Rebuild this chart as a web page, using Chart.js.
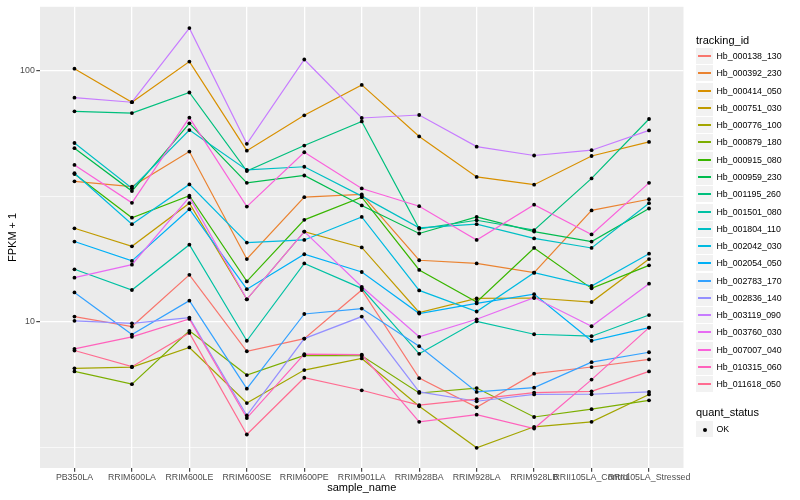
<!DOCTYPE html>
<html lang="en">
<head>
<meta charset="UTF-8">
<title>FPKM + 1 by sample</title>
<script src="https://cdn.jsdelivr.net/npm/chart.js"></script>
<style>
    body { margin: 0; background: #fff; }
    .wrap { position: relative; width: 800px; height: 500px; font-family: "Liberation Sans", Arial, sans-serif; }
    #chart { position: absolute; left: 0; top: 0; }
    .lg-title { position: absolute; left: 696px; font-size: 11px; line-height: 13.2px; color: #000; white-space: nowrap; }
    .lg-key { position: absolute; left: 696px; width: 17px; height: 17px; box-sizing: border-box; background: #f2f2f2; border-bottom: 1px solid #fff; }
    .lg-line { position: absolute; left: 2px; right: 2px; top: 7px; height: 2px; }
    .lg-dot { position: absolute; left: 6.5px; top: 6.5px; width: 4px; height: 4px; border-radius: 50%; background: #000; }
    .lg-text { position: absolute; left: 716.5px; font-size: 8.8px; line-height: 17px; color: #000; white-space: nowrap; }
</style>
</head>
<body>
<div class="wrap" id="wrap">
    <canvas id="chart" width="800" height="500"></canvas>
</div>
<script>
    const samples = ['PB350LA', 'RRIM600LA', 'RRIM600LE', 'RRIM600SE', 'RRIM600PE', 'RRIM901LA',
        'RRIM928BA', 'RRIM928LA', 'RRIM928LB', 'RRII105LA_Control', 'RRII105LA_Stressed'];

    const trackingIds = ['Hb_000138_130', 'Hb_000392_230', 'Hb_000414_050', 'Hb_000751_030', 'Hb_000776_100',
        'Hb_000879_180', 'Hb_000915_080', 'Hb_000959_230', 'Hb_001195_260', 'Hb_001501_080',
        'Hb_001804_110', 'Hb_002042_030', 'Hb_002054_050', 'Hb_002783_170', 'Hb_002836_140',
        'Hb_003119_090', 'Hb_003760_030', 'Hb_007007_040', 'Hb_010315_060', 'Hb_011618_050'];

    // FPKM + 1, one value per sample
    const hb_000138_130 = [10.5, 9.58, 15.4, 7.64, 8.58, 13.4, 5.97, 4.57, 6.22, 6.61, 7.09];
    const hb_000392_230 = [36.3, 34.6, 47.7, 17.8, 31.4, 32.2, 17.6, 17.1, 15.7, 27.8, 30.8];
    const hb_000414_050 = [102, 75, 108.9, 48.1, 66.5, 87.9, 54.8, 37.8, 35.2, 45.8, 52.1];
    const hb_000751_030 = [23.6, 20.0, 29.7, 12.3, 22.9, 19.8, 10.9, 12.4, 12.45, 12.0, 17.8];
    const hb_000776_100 = [6.53, 6.60, 7.91, 4.75, 6.43, 7.15, 4.61, 3.15, 3.82, 4.0, 5.14];
    const hb_000879_180 = [6.35, 5.65, 9.21, 6.14, 7.35, 7.33, 5.21, 5.45, 4.18, 4.49, 4.87];
    const hb_000915_080 = [38.8, 26.0, 31.8, 14.5, 25.5, 31.4, 16.1, 12.0, 19.7, 13.6, 16.8];
    const hb_000959_230 = [49.2, 33.2, 61.8, 35.8, 38.3, 29.1, 22.5, 26.2, 22.9, 20.9, 28.3];
    const hb_001195_260 = [69.0, 67.9, 82.0, 39.9, 50.4, 62.9, 23.5, 25.4, 23.2, 37.3, 64.3];
    const hb_001501_080 = [16.2, 13.4, 20.3, 8.41, 17.1, 13.6, 7.46, 10.05, 8.93, 8.77, 10.65];
    const hb_001804_110 = [51.6, 34.1, 58.1, 40.3, 41.5, 31.7, 23.7, 24.5, 21.5, 19.7, 29.7];
    const hb_002042_030 = [39.1, 24.5, 35.3, 20.7, 21.2, 26.2, 13.35, 11.0, 15.7, 13.9, 18.7];
    const hb_002054_050 = [20.9, 17.5, 28.1, 13.5, 18.6, 15.8, 10.8, 11.85, 12.9, 8.41, 9.49];
    const hb_002783_170 = [13.1, 8.90, 12.15, 5.42, 10.75, 11.3, 8.0, 5.26, 5.47, 6.91, 7.57];
    const hb_002836_140 = [10.1, 9.87, 10.4, 4.24, 8.58, 10.5, 5.26, 4.83, 5.14, 5.15, 5.26];
    const hb_003119_090 = [78.2, 75.0, 148, 51.2, 111, 64.9, 66.7, 49.9, 46.0, 48.3, 57.9];
    const hb_003760_030 = [15.0, 16.9, 31.4, 12.3, 22.9, 13.8, 8.72, 10.24, 12.5, 9.61, 14.2];
    const hb_007007_040 = [42.2, 29.8, 65.1, 28.8, 47.4, 34.0, 28.9, 21.2, 29.3, 22.3, 35.8];
    const hb_010315_060 = [7.81, 8.72, 10.28, 4.14, 7.44, 7.40, 4.0, 4.27, 3.76, 5.89, 9.49];
    const hb_011618_050 = [7.69, 6.63, 9.04, 3.56, 5.99, 5.34, 4.66, 4.92, 5.23, 5.29, 6.35];

    const seriesValues = [hb_000138_130, hb_000392_230, hb_000414_050, hb_000751_030, hb_000776_100,
        hb_000879_180, hb_000915_080, hb_000959_230, hb_001195_260, hb_001501_080,
        hb_001804_110, hb_002042_030, hb_002054_050, hb_002783_170, hb_002836_140,
        hb_003119_090, hb_003760_030, hb_007007_040, hb_010315_060, hb_011618_050];

    const yTicks = [3.1623, 10, 31.623, 100];
    const yLabelled = [10, 100];
    const quantStatus = ['OK'];

    // ggplot hue palette, 20 levels
    const palette = ['#F8766D', '#EA8331', '#D89000', '#C09B00', '#A3A500', '#7CAE00', '#39B600', '#00BB4E',
        '#00BF7D', '#00C1A3', '#00BFC4', '#00BAE0', '#00B0F6', '#35A2FF', '#9590FF', '#C77CFF',
        '#E76BF3', '#FA62DB', '#FF62BC', '#FF6C91'];

    Chart.defaults.font.family = '"Liberation Sans", Arial, sans-serif';
    Chart.defaults.animation = false;

    const isMajor = v => yLabelled.some(m => Math.abs(m - v) < 1e-6);

    const datasets = seriesValues.map((vals, i) => ({
        label: trackingIds[i],
        data: vals.map((v, j) => ({ x: j, y: v })),
        borderColor: palette[i],
        backgroundColor: palette[i],
        borderWidth: 1.2,
        pointRadius: 0,
        tension: 0,
        order: seriesValues.length - i
    }));

    // all points drawn on top of the lines, like geom_point after geom_line
    datasets.push({
        label: quantStatus[0],
        data: seriesValues.flatMap(vals => vals.map((v, j) => ({ x: j, y: v }))),
        showLine: false,
        pointRadius: 1.9,
        pointBackgroundColor: '#000',
        pointBorderWidth: 0,
        order: 0
    });

    const panelBg = {
        id: 'panelBg',
        beforeDraw(chart) {
            const a = chart.chartArea;
            chart.ctx.save();
            chart.ctx.fillStyle = '#ebebeb';
            chart.ctx.fillRect(a.left, a.top, a.right - a.left, a.bottom - a.top);
            chart.ctx.restore();
        }
    };

    new Chart('chart', {
        type: 'line',
        data: { datasets: datasets },
        options: {
            responsive: false,
            layout: { padding: { left: 0, right: 116.5, top: 5, bottom: 0 } },
            plugins: { legend: { display: false }, tooltip: { enabled: false } },
            scales: {
                x: {
                    type: 'linear',
                    min: -0.6,
                    max: samples.length - 0.4,
                    afterBuildTicks: s => { s.ticks = samples.map((_, i) => ({ value: i })); },
                    afterFit: s => { s.height = 32; },
                    border: { display: false },
                    grid: { color: '#fff', lineWidth: 1.3, tickLength: 3.7, tickColor: '#333', tickWidth: 1.1 },
                    ticks: {
                        autoSkip: false, maxRotation: 0, padding: 0.5, color: '#4d4d4d',
                        font: { size: 8.8 },
                        callback: v => samples[v]
                    },
                    title: {
                        display: true, text: 'sample_name', color: '#000',
                        font: { size: 11 }, padding: { top: 0, bottom: 5.1 }
                    }
                },
                y: {
                    type: 'logarithmic',
                    min: 2.618,
                    max: 180,
                    afterBuildTicks: s => { s.ticks = yTicks.map(v => ({ value: v })); },
                    afterFit: s => { s.width = 40; },
                    border: { display: false },
                    grid: {
                        color: '#fff',
                        lineWidth: ctx => (ctx.tick && isMajor(ctx.tick.value)) ? 1.3 : 0.65,
                        tickLength: 3.7,
                        tickColor: ctx => (ctx.tick && isMajor(ctx.tick.value)) ? '#333' : 'rgba(0,0,0,0)',
                        tickWidth: 1.1
                    },
                    ticks: {
                        padding: 1.5, color: '#4d4d4d', font: { size: 8.8 },
                        callback: v => isMajor(v) ? String(Math.round(v)) : ''
                    },
                    title: {
                        display: true, text: 'FPKM + 1', color: '#000',
                        font: { size: 11 }, padding: { top: 6.7, bottom: 0 }
                    }
                }
            }
        },
        plugins: [panelBg]
    });

    // legend, ggplot style
    const wrap = document.getElementById('wrap');
    function add(cls, top, text) {
        const el = document.createElement('div');
        el.className = cls;
        el.style.top = Math.round(top) + 'px';
        if (text) el.textContent = text;
        wrap.appendChild(el);
        return el;
    }
    const keySize = 17.28;
    add('lg-title', 34.1, 'tracking_id');
    trackingIds.forEach((id, i) => {
        const top = 48 + i * keySize;
        const key = add('lg-key', top);
        const line = document.createElement('div');
        line.className = 'lg-line';
        line.style.background = palette[i];
        key.appendChild(line);
        add('lg-text', top, id);
    });
    add('lg-title', 406.1, 'quant_status');
    quantStatus.forEach((s, i) => {
        const top = 421 + i * keySize;
        const key = add('lg-key', top);
        const dot = document.createElement('div');
        dot.className = 'lg-dot';
        key.appendChild(dot);
        add('lg-text', top, s);
    });
</script>
</body>
</html>
